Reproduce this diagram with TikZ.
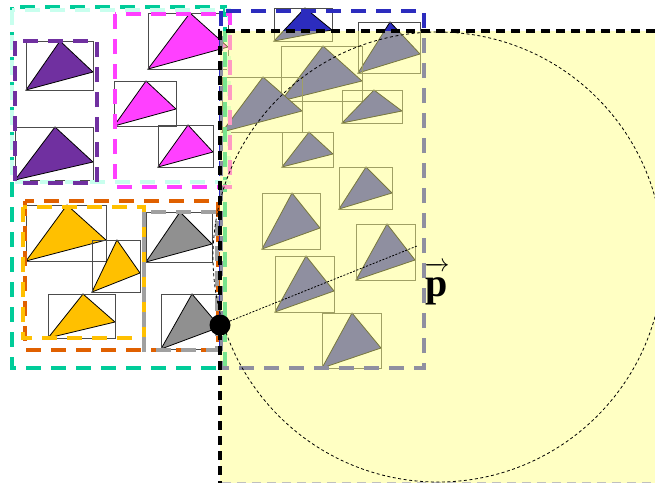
\documentclass[tikz,border=0pt]{standalone}
\usepackage{fontspec}
\newfontfamily\labelfont{Liberation Serif}
\definecolor{purp}{RGB}{112,48,160}
\definecolor{magen}{RGB}{255,64,255}
\definecolor{gold}{RGB}{255,192,0}
\definecolor{grayt}{RGB}{144,144,144}
\definecolor{bluet}{RGB}{44,44,190}
\definecolor{teal2}{RGB}{0,204,153}
\definecolor{lcyan}{RGB}{200,255,238}
\definecolor{orang}{RGB}{224,96,0}
\definecolor{grayd}{RGB}{160,160,160}
\definecolor{ovl}{RGB}{255,255,128}
\newcommand\TriBox[7]{%
  \filldraw[tri,fill=#1] (#2,#5) -- (#6,#3) -- (#4,#7) -- cycle;
  \draw[bbox] (#2,#3) rectangle (#4,#5);}
\begin{document}
\begin{tikzpicture}[x=1pt,y=-1pt,
  tri/.style={draw=black,line width=0.8pt,line join=miter},
  bbox/.style={draw=black!70,line width=0.9pt},
  grp/.style={line width=4pt,dash pattern=on 15pt off 10pt},
  brd/.style={line width=4pt,dash pattern=on 9pt off 6pt,draw=black}]
\useasboundingbox (0,0) rectangle (655,483);
\fill[white] (0,0) rectangle (655,483);
% purple
\TriBox{purp}{26}{41}{93}{90}{60}{72}
\TriBox{purp}{15}{127}{93}{180}{55}{162}
% magenta
\TriBox{magen}{148}{13}{228}{69}{190}{47}
\TriBox{magen}{114}{81}{176}{126}{146}{109}
\TriBox{magen}{158}{125}{213}{167}{188}{152}
% gold
\TriBox{gold}{26}{205}{106}{261}{67}{240}
\TriBox{gold}{92}{240}{140}{292}{117}{273}
\TriBox{gold}{48}{294}{115}{338}{83}{322}
% gray
\TriBox{grayt}{146}{212}{212}{262}{180}{244}
\TriBox{grayt}{161}{294}{220}{349}{192}{327}
% blue
\TriBox{bluet}{274}{8}{332}{41}{305}{30}
\TriBox{bluet}{358}{22}{420}{73}{390}{54}
\TriBox{bluet}{281}{46}{362}{101}{323}{81}
\TriBox{bluet}{222}{77}{302}{132}{263}{111}
\TriBox{bluet}{342}{90}{402}{123}{374}{111}
\TriBox{bluet}{282}{132}{333}{167}{309}{154}
\TriBox{bluet}{339}{167}{392}{209}{366}{193}
\TriBox{bluet}{262}{193}{320}{249}{292}{228}
\TriBox{bluet}{356}{224}{415}{280}{387}{260}
\TriBox{bluet}{275}{256}{334}{312}{306}{291}
\TriBox{bluet}{322}{313}{381}{368}{352}{348}
% group boxes
\draw[grp,teal2] (12,7) rectangle (225,368);
\draw[grp,lcyan] (12,10) rectangle (229,182);
\draw[grp,purp] (15,41) rectangle (97,183);
\draw[grp,magen] (115,14) rectangle (230,187);
\draw[grp,orang] (25,201) rectangle (218,350);
\draw[grp,gold] (23,207) rectangle (144,338);
\draw[grp,grayd] (144,212) rectangle (217,350);
\draw[grp,bluet] (221,11) rectangle (424,368);
% query region overlay
\fill[ovl,fill opacity=0.47] (220,31) rectangle (655,483);
\draw[brd] (655,31) -- (220,31) -- (220,483);
\draw[line width=1pt,dash pattern=on 9pt off 6pt,draw=black!25] (222,482) -- (655,482);
\draw[line width=0.8pt,dash pattern=on 3pt off 2.5pt] (438,257) circle[radius=225];
\fill[black] (220,325) circle[radius=10.5];
\coordinate (pend) at (417,246);
\draw[line width=0.8pt,dash pattern=on 2pt off 1.5pt] (220,325) -- (pend);
\node[inner sep=0pt,anchor=base] (plabel) at (437,296)
  {\fontsize{40}{40}\selectfont$\overrightarrow{\hbox{\labelfont\bfseries\raisebox{0pt}[0.64em][0.22em]{p}}}$};
\end{tikzpicture}
\end{document}
